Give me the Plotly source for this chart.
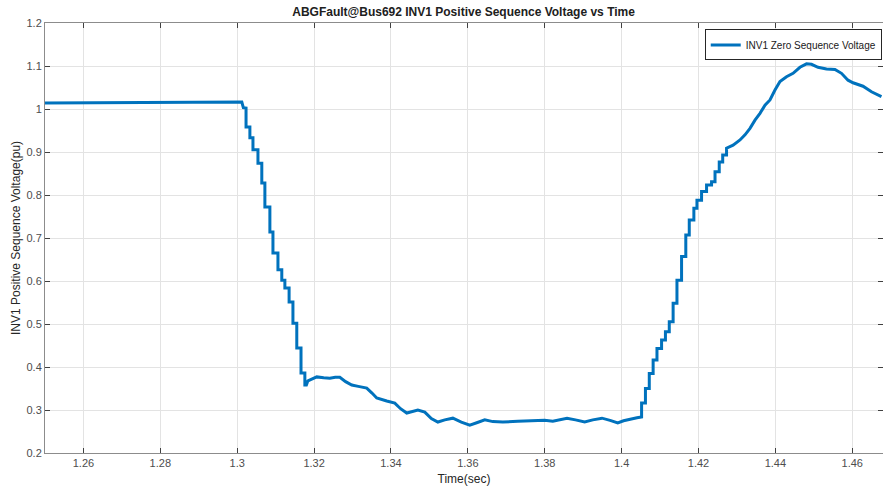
import plotly.graph_objects as go

# Time (sec) and INV1 positive sequence voltage (pu)
time_s = [
    1.2500, 1.2700, 1.2900, 1.3000, 1.3012, 1.3016, 1.3023, 1.3023, 1.3033, 1.3033,
    1.3041, 1.3041, 1.3054, 1.3054, 1.3064, 1.3064, 1.3072, 1.3072, 1.3085, 1.3085,
    1.3093, 1.3093, 1.3106, 1.3106, 1.3116, 1.3116, 1.3124, 1.3124, 1.3135, 1.3135,
    1.3145, 1.3145, 1.3155, 1.3155, 1.3166, 1.3166, 1.3176, 1.3176, 1.3180, 1.3184,
    1.3195, 1.3207, 1.3225, 1.3241, 1.3255, 1.3267, 1.3282, 1.3298, 1.3315, 1.3337,
    1.3350, 1.3363, 1.3389, 1.3410, 1.3425, 1.3441, 1.3470, 1.3488, 1.3505, 1.3522,
    1.3540, 1.3561, 1.3583, 1.3605, 1.3625, 1.3644, 1.3665, 1.3691, 1.3730, 1.3769,
    1.3800, 1.3821, 1.3858, 1.3880, 1.3904, 1.3925, 1.3949, 1.3970, 1.3990, 1.4005,
    1.4021, 1.4040, 1.4052, 1.4052, 1.4062, 1.4062, 1.4072, 1.4072, 1.4082, 1.4082,
    1.4092, 1.4092, 1.4104, 1.4104, 1.4114, 1.4114, 1.4124, 1.4124, 1.4134, 1.4134,
    1.4144, 1.4144, 1.4156, 1.4156, 1.4167, 1.4167, 1.4176, 1.4176, 1.4188, 1.4188,
    1.4196, 1.4196, 1.4208, 1.4208, 1.4221, 1.4221, 1.4234, 1.4234, 1.4243, 1.4243,
    1.4254, 1.4254, 1.4263, 1.4263, 1.4273, 1.4273, 1.4290, 1.4308, 1.4321, 1.4334,
    1.4347, 1.4360, 1.4373, 1.4386, 1.4399, 1.4412, 1.4429, 1.4446, 1.4464, 1.4481,
    1.4494, 1.4511, 1.4533, 1.4555, 1.4572, 1.4589, 1.4602, 1.4628, 1.4650, 1.4676,
]
voltage_pu = [
    1.014, 1.015, 1.016, 1.017, 1.016, 1.003, 1.002, 0.958, 0.958, 0.933,
    0.933, 0.905, 0.905, 0.874, 0.874, 0.828, 0.828, 0.772, 0.772, 0.714,
    0.714, 0.665, 0.665, 0.626, 0.626, 0.602, 0.602, 0.584, 0.584, 0.551,
    0.551, 0.502, 0.502, 0.444, 0.444, 0.386, 0.386, 0.358, 0.358, 0.368,
    0.372, 0.377, 0.375, 0.374, 0.376, 0.376, 0.366, 0.358, 0.355, 0.351,
    0.340, 0.328, 0.321, 0.316, 0.303, 0.293, 0.300, 0.295, 0.280, 0.272,
    0.277, 0.281, 0.272, 0.265, 0.271, 0.277, 0.273, 0.272, 0.274, 0.276,
    0.276, 0.274, 0.281, 0.277, 0.272, 0.277, 0.281, 0.276, 0.270, 0.275,
    0.279, 0.282, 0.284, 0.316, 0.316, 0.350, 0.350, 0.385, 0.385, 0.416,
    0.416, 0.443, 0.443, 0.463, 0.463, 0.482, 0.482, 0.505, 0.505, 0.548,
    0.548, 0.602, 0.602, 0.657, 0.657, 0.707, 0.707, 0.742, 0.742, 0.769,
    0.769, 0.788, 0.788, 0.808, 0.808, 0.823, 0.823, 0.831, 0.831, 0.854,
    0.854, 0.877, 0.877, 0.893, 0.893, 0.909, 0.916, 0.928, 0.940, 0.955,
    0.974, 0.990, 1.009, 1.021, 1.044, 1.064, 1.075, 1.083, 1.097, 1.105,
    1.104, 1.097, 1.093, 1.092, 1.083, 1.067, 1.061, 1.053, 1.040, 1.029,
]

x_tick_vals = [1.26, 1.28, 1.30, 1.32, 1.34, 1.36, 1.38, 1.40, 1.42, 1.44, 1.46]
x_tick_text = ["1.26", "1.28", "1.3", "1.32", "1.34", "1.36", "1.38", "1.4", "1.42", "1.44", "1.46"]
y_tick_vals = [0.2, 0.3, 0.4, 0.5, 0.6, 0.7, 0.8, 0.9, 1.0, 1.1, 1.2]
y_tick_text = ["0.2", "0.3", "0.4", "0.5", "0.6", "0.7", "0.8", "0.9", "1", "1.1", "1.2"]

FONT = "Liberation Sans, Arial, Helvetica, sans-serif"

fig = go.Figure()
fig.add_trace(go.Scatter(
    x=time_s, y=voltage_pu, mode="lines",
    name="INV1 Zero Sequence Voltage",
    line=dict(color="#0072BD", width=3),
))

axis_common = dict(
    showline=True, linecolor="#8c8c8c", linewidth=1, mirror="allticks",
    ticks="inside", ticklen=5, tickcolor="#404040", tickwidth=1,
    showgrid=True, gridcolor="#e3e3e3", gridwidth=1, zeroline=False,
    tickfont=dict(family=FONT, size=11, color="#4d4d4d"),
)

fig.update_layout(
    width=883, height=488,
    margin=dict(l=45, r=0, t=23, b=35),
    paper_bgcolor="white", plot_bgcolor="white",
    title=dict(text="<b>ABGFault@Bus692 INV1 Positive Sequence Voltage vs Time</b>",
               x=0.525, xanchor="center", y=0.985, yanchor="top",
               font=dict(family=FONT, size=12, color="#202020")),
    font=dict(family=FONT),
    showlegend=True,
    legend=dict(x=0.9985, xanchor="right", y=0.985, yanchor="top",
                bgcolor="white", bordercolor="#262626", borderwidth=1,
                font=dict(family=FONT, size=10, color="#202020"),
                itemwidth=30, tracegroupgap=0),
)
fig.update_xaxes(range=[1.25, 1.468], tickvals=x_tick_vals, ticktext=x_tick_text,
                 title=dict(text="Time(sec)", font=dict(family=FONT, size=12, color="#262626"), standoff=6),
                 **axis_common)
fig.update_yaxes(range=[0.2, 1.2], tickvals=y_tick_vals, ticktext=y_tick_text,
                 title=dict(text="INV1 Positive Sequence Voltage(pu)", font=dict(family=FONT, size=12, color="#262626"), standoff=3),
                 **axis_common)

fig.write_html("out.html")
